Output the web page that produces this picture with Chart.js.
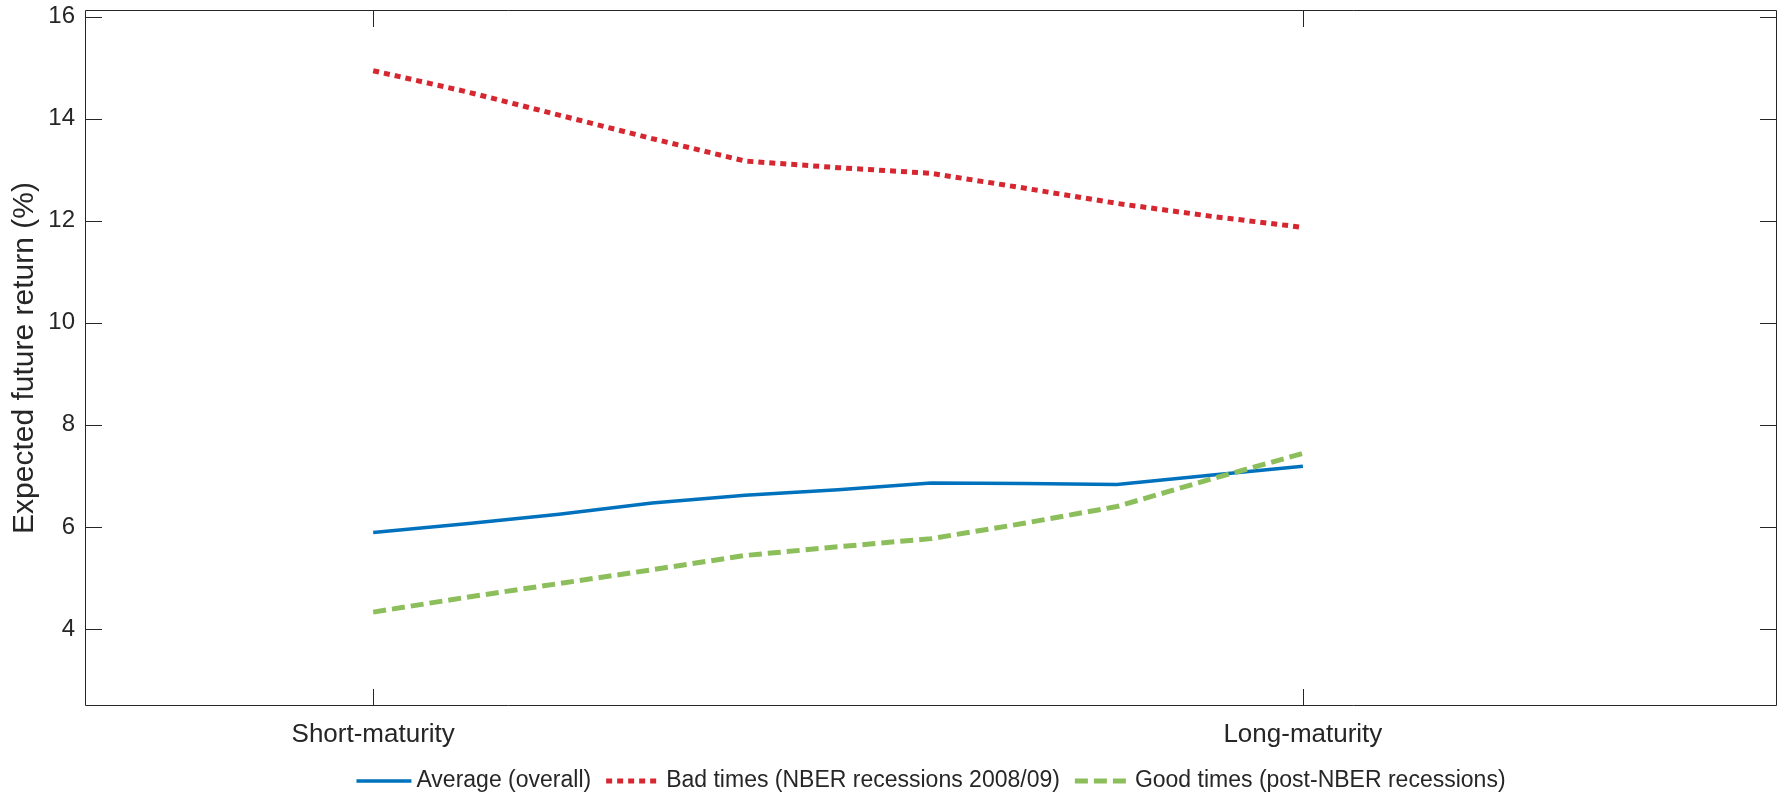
<!DOCTYPE html>
<html><head><meta charset="utf-8">
<script src="https://cdn.jsdelivr.net/npm/chart.js@4"></script>
<style>html,body{margin:0;padding:0;background:#fff;}canvas{display:block;}</style>
</head><body>
<canvas id="c" width="1779" height="799"></canvas>
<script>
const maturityPos = [0, 0.1, 0.2, 0.3, 0.4, 0.5, 0.6, 0.7, 0.8, 0.9, 1.0];
const averageOverall = [5.89, 6.06, 6.25, 6.47, 6.62, 6.73, 6.86, 6.85, 6.83, 7.01, 7.19];
const badTimes = [14.94, 14.53, 14.07, 13.61, 13.17, 13.04, 12.93, 12.64, 12.34, 12.09, 11.87];
const goodTimes = [4.33, 4.62, 4.89, 5.16, 5.44, 5.61, 5.77, 6.07, 6.40, 6.93, 7.44];
const xTickValues = [0, 1];
const xTickLabels = ['Short-maturity', 'Long-maturity'];
const yTickValues = [4, 6, 8, 10, 12, 14, 16];
const seriesNames = ['Average (overall)', 'Bad times (NBER recessions 2008/09)', 'Good times (post-NBER recessions)'];
const yAxisTitle = 'Expected future return (%)';

const FONT = '"Liberation Sans", Arial, Helvetica, sans-serif';
const TXT = '#262626';

function pts(ys) { return maturityPos.map((x, i) => ({x: x, y: ys[i]})); }

const boxPlugin = {
  id: 'matlabBox',
  afterDatasetsDraw(chart) {
    const {ctx, chartArea: a, scales} = chart;
    const x = scales.x, y = scales.y;
    ctx.save();
    ctx.strokeStyle = TXT;
    ctx.lineWidth = 1;
    ctx.setLineDash([]);
    ctx.beginPath();
    ctx.rect(a.left + 0.5, a.top + 0.5, a.right - a.left - 1, a.bottom - a.top - 1);
    y.ticks.forEach(t => {
      const py = Math.round(y.getPixelForValue(t.value)) + 0.5;
      ctx.moveTo(a.left, py); ctx.lineTo(a.left + 17, py);
      ctx.moveTo(a.right, py); ctx.lineTo(a.right - 17, py);
    });
    x.ticks.forEach(t => {
      const px = Math.round(x.getPixelForValue(t.value)) + 0.5;
      ctx.moveTo(px, a.bottom); ctx.lineTo(px, a.bottom - 17);
      ctx.moveTo(px, a.top); ctx.lineTo(px, a.top + 17);
    });
    ctx.stroke();
    ctx.restore();
  }
};

const legendPlugin = {
  id: 'matlabLegend',
  afterDraw(chart, args, opts) {
    const {ctx, chartArea: a} = chart;
    ctx.save();
    ctx.font = opts.fontSize + 'px ' + FONT;
    ctx.textBaseline = 'middle';
    ctx.fillStyle = TXT;
    const ds = chart.data.datasets;
    const order = [0, 1, 2];
    const widths = order.map(i => ctx.measureText(ds[i].label).width);
    const total = widths.reduce((s, w) => s + w, 0) + order.length * (opts.sample + opts.gap) + (order.length - 1) * opts.spacing;
    let cx = (a.left + a.right) / 2 - total / 2;
    const cy = opts.y;
    order.forEach((i, k) => {
      const d = ds[i];
      ctx.strokeStyle = d.borderColor;
      ctx.lineWidth = d.borderWidth;
      ctx.setLineDash(d.borderDash || []);
      ctx.lineCap = 'butt';
      ctx.beginPath();
      ctx.moveTo(cx, cy); ctx.lineTo(cx + opts.sample, cy);
      ctx.stroke();
      ctx.setLineDash([]);
      cx += opts.sample + opts.gap;
      ctx.fillText(d.label, cx, cy);
      cx += widths[k] + opts.spacing;
    });
    ctx.restore();
  }
};

new Chart(document.getElementById('c'), {
  type: 'line',
  data: {
    datasets: [
      {label: seriesNames[0], data: pts(averageOverall), borderColor: '#0072BD', borderWidth: 3.5, order: 3},
      {label: seriesNames[1], data: pts(badTimes), borderColor: '#D62730', borderWidth: 5, borderDash: [6, 5], borderCapStyle: 'butt', order: 2},
      {label: seriesNames[2], data: pts(goodTimes), borderColor: '#8CBF5B', borderWidth: 5, borderDash: [13, 6], borderCapStyle: 'butt', order: 1}
    ]
  },
  options: {
    responsive: false,
    animation: false,
    devicePixelRatio: 1,
    layout: {padding: {top: 10, right: 2, left: 0, bottom: 0}},
    elements: {line: {tension: 0, fill: false}, point: {radius: 0, hoverRadius: 0}},
    plugins: {
      legend: {display: false},
      tooltip: {enabled: false},
      matlabLegend: {fontSize: 23, sample: 55, gap: 5, spacing: 15, y: 781}
    },
    scales: {
      x: {
        type: 'linear',
        min: -0.31, max: 1.51,
        border: {display: false},
        grid: {display: false, drawTicks: false},
        afterBuildTicks: s => { s.ticks = xTickValues.map(v => ({value: v})); },
        afterFit: s => { s.height = 93; s.paddingLeft = 0; s.paddingRight = 0; },
        ticks: {
          autoSkip: false, maxRotation: 0, padding: 13,
          color: TXT, font: {family: FONT, size: 26},
          callback: v => xTickLabels[xTickValues.indexOf(v)]
        }
      },
      y: {
        min: 2.49, max: 16.13,
        border: {display: false},
        grid: {display: false, drawTicks: false},
        afterBuildTicks: s => { s.ticks = yTickValues.map(v => ({value: v})); },
        afterFit: s => { s.width = 85; s.paddingTop = 0; s.paddingBottom = 0; },
        ticks: {padding: 10, color: TXT, font: {family: FONT, size: 24}},
        title: {display: true, text: yAxisTitle, color: TXT, font: {family: FONT, size: 30}, padding: {top: 7, bottom: 0}}
      }
    }
  },
  plugins: [boxPlugin, legendPlugin]
});
</script>
</body></html>
